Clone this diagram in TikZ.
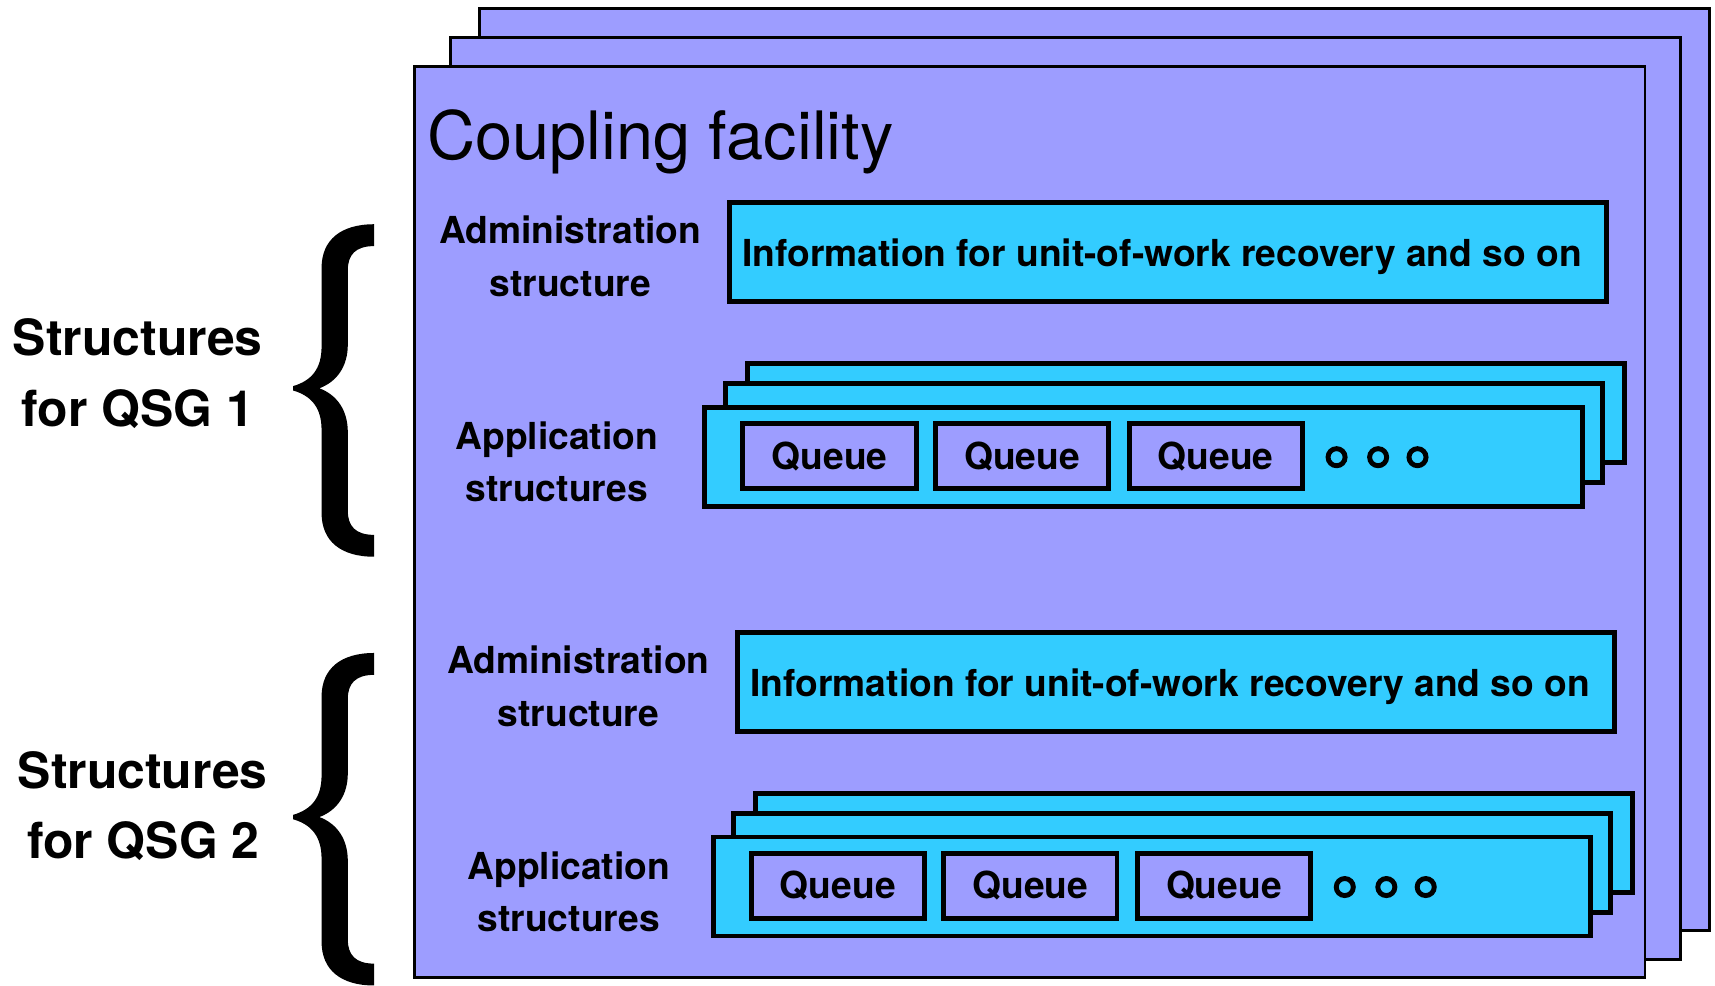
\documentclass[tikz,border=0pt]{standalone}
\usepackage{fontspec}
\setmainfont{TeX Gyre Heros}
\definecolor{cfback}{HTML}{9D9DFF}
\definecolor{strfill}{HTML}{33CCFF}

% Curly brace drawn as a filled outline, top at local y=0, bottom at y=304
\tikzset{
  qbrace/.pic={
    \fill[black] (342,0)
      .. controls (312,0) and (294,14) .. (294,40)
      -- (294,112)
      .. controls (294,132) and (285,143) .. (268,148)
      -- (268,152)
      .. controls (285,157) and (294,168) .. (294,188)
      -- (294,264)
      .. controls (294,290) and (312,304) .. (342,304)
      -- (342,284)
      .. controls (325,284) and (318,276) .. (318,262)
      -- (318,190)
      .. controls (318,170) and (308,156) .. (292,150)
      .. controls (308,144) and (318,130) .. (318,110)
      -- (318,42)
      .. controls (318,28) and (325,20) .. (342,20)
      -- cycle;
  }
}

% One queue-sharing group: administration structure plus stacked application structures
% #1 = name prefix, #2 = x of the application label
\newcommand\qsgstructs[2]{%
  \node[strbox] (#1admbox) at (1068,230.5) {};
  \node[lbl] (#1info) at (1062.5,244) {Information for unit-of-work recovery and so on};
  \node[lbl] (#1adma) at (521.5,223) {Administration};
  \node[lbl] (#1admb) at (521.5,271) {structure};
  \node[strbox] (#1stackc) at (1084,378) {};
  \node[strbox] (#1stackb) at (1064,396) {};
  \node[strbox] (#1stacka) at (1045.5,417.5) {};
  \node[queuebox] (#1qa) at (758.5,417) {Queue};
  \node[queuebox] (#1qb) at (934.5,417) {Queue};
  \node[queuebox] (#1qc) at (1111.5,417) {Queue};
  \draw[dot] (1222,418) circle[radius=3.9pt];
  \draw[dot] (1260,418) circle[radius=3.9pt];
  \draw[dot] (1296,418) circle[radius=3.9pt];
  \node[lbl] (#1appa) at (#2,411) {Application};
  \node[lbl] (#1appb) at (#2,458.5) {structures};
}

\begin{document}
\begin{tikzpicture}[x=0.5pt,y=-0.5pt,
  frame/.style={draw=black, line width=1.35pt, fill=cfback},
  strbox/.style={draw=black, line width=2.25pt, fill=strfill, inner sep=0pt,
    minimum width=401pt, minimum height=45.25pt},
  queuebox/.style={draw=black, line width=2.25pt, fill=cfback, inner sep=0pt,
    minimum width=79.25pt, minimum height=29.75pt,
    font=\fontsize{17}{20}\selectfont\bfseries},
  lbl/.style={font=\fontsize{17}{20}\selectfont\bfseries, inner sep=0pt, anchor=base},
  sidelbl/.style={font=\fontsize{22.8}{26}\selectfont\bfseries, inner sep=0pt, anchor=base},
  dot/.style={draw=black, line width=2.25pt},
]
\useasboundingbox (0,0) rectangle (1568,901);

% stacked coupling facilities
\draw[frame] (438,8) rectangle (1563,851);
\draw[frame] (412,34) rectangle (1536,877);
\draw[frame] (379,61) rectangle (1504,894);

\node[font=\fontsize{30.5}{36}\selectfont, anchor=base west, inner sep=0pt]
  (title) at (390,146) {Coupling facility};

\begin{scope}
  \qsgstructs{ga}{509}
\end{scope}
\begin{scope}[shift={(7.5,393)}]
  \qsgstructs{gb}{512.5}
\end{scope}

% group labels with braces
\pic (bracea) at (0,205) {qbrace};
\pic (braceb) at (0,597) {qbrace};
\node[sidelbl] (sidea1) at (126,324.6) {Structures};
\node[sidelbl] (sidea2) at (126,389.5) {for QSG 1};
\node[sidelbl] (sideb1) at (130.5,720.7) {Structures};
\node[sidelbl] (sideb2) at (131,784.7) {for QSG 2};
\end{tikzpicture}
\end{document}
